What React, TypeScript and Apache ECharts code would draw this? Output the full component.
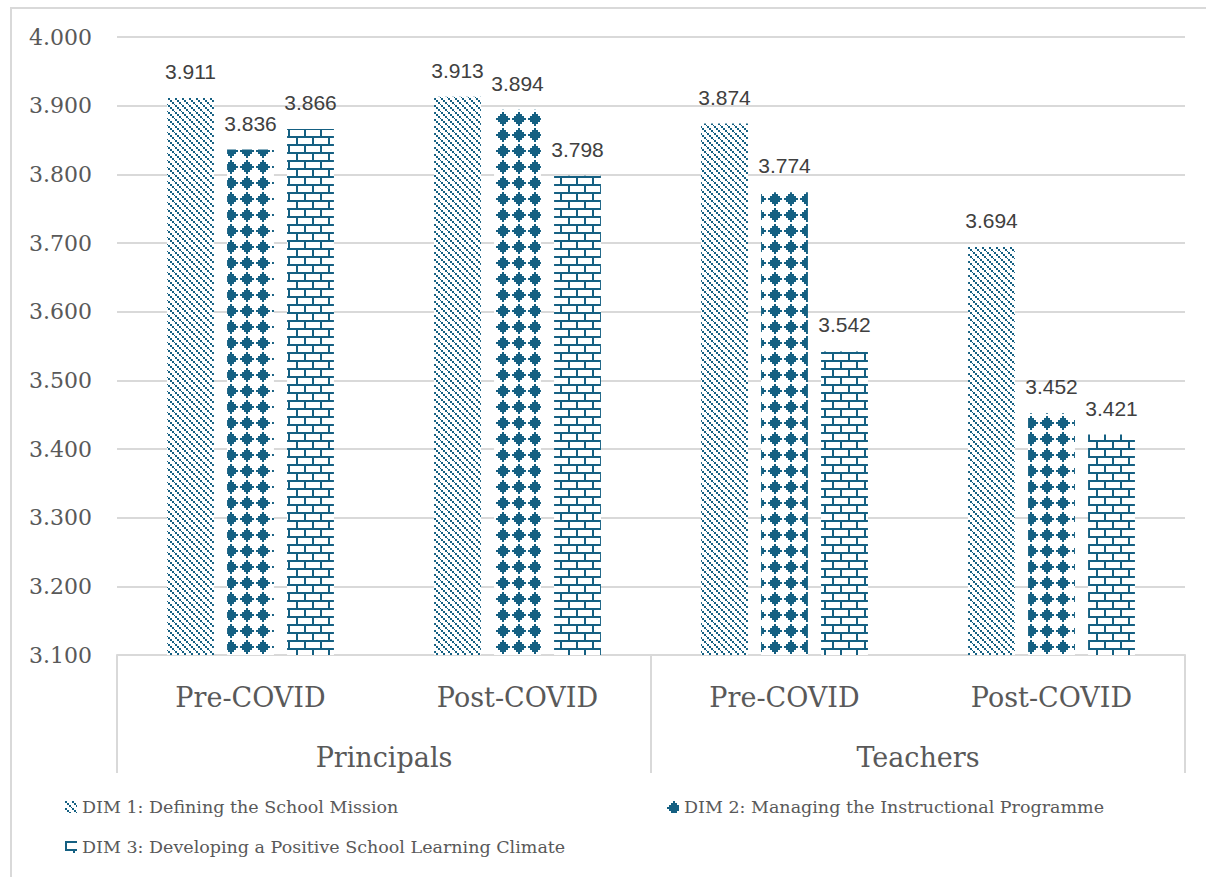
import { useEffect, useRef } from "react";
import * as echarts from "echarts";

// Category levels
const groups = ["Principals", "Teachers"];
const periods = ["Pre-COVID", "Post-COVID", "Pre-COVID", "Post-COVID"];

// Series names
const dimNames = [
  "DIM 1: Defining the School Mission",
  "DIM 2: Managing the Instructional Programme",
  "DIM 3: Developing a Positive School Learning Climate",
];

// Mean scores per period (Principals Pre, Principals Post, Teachers Pre, Teachers Post)
const dim1 = [3.911, 3.913, 3.874, 3.694];
const dim2 = [3.836, 3.894, 3.774, 3.452];
const dim3 = [3.866, 3.798, 3.542, 3.421];

// Value axis range
const yMin = 3.1;
const yMax = 4.0;
const yStep = 0.1;

const INK = "#156082";
const GRID = "#d9d9d9";
const TEXT = "#595959";
const SERIF = "DejaVu Serif";

type Painter = (ctx: CanvasRenderingContext2D) => void;

function makeTile(size: number, draw: Painter) {
  const c = document.createElement("canvas");
  c.width = size;
  c.height = size;
  const ctx = c.getContext("2d") as CanvasRenderingContext2D;
  ctx.fillStyle = "#ffffff";
  ctx.fillRect(0, 0, size, size);
  ctx.fillStyle = INK;
  draw(ctx);
  return {
    image: c.toDataURL(),
    imageWidth: size,
    imageHeight: size,
    repeat: "repeat",
  };
}

// Dotted downward diagonal
const diagonal: Painter = (ctx) => {
  ctx.fillRect(0, 0, 2, 2);
  ctx.fillRect(2, 2, 2, 2);
  ctx.fillRect(4, 4, 2, 2);
  ctx.fillRect(6, 6, 1, 1);
};

// Solid diamonds on a 2px cell grid
const diamonds: Painter = (ctx) => {
  for (let cy = 0; cy < 8; cy++) {
    for (let cx = 0; cx < 8; cx++) {
      if (Math.abs(cx - 3) + Math.abs(cy - 3) <= 3) ctx.fillRect(cx * 2, cy * 2, 2, 2);
    }
  }
};

// Horizontal brick
const bricks: Painter = (ctx) => {
  ctx.fillRect(0, 0, 16, 2);
  ctx.fillRect(0, 8, 16, 2);
  ctx.fillRect(0, 2, 2, 6);
  ctx.fillRect(8, 10, 2, 6);
};

export default function App() {
  const ref = useRef<HTMLDivElement>(null);

  useEffect(() => {
    if (!ref.current) return;
    const chart = echarts.init(ref.current, undefined, { renderer: "svg" });

    const fills = [makeTile(7, diagonal), makeTile(16, diamonds), makeTile(16, bricks)];
    const values = [dim1, dim2, dim3];

    const legendText = {
      fontFamily: SERIF,
      fontSize: 17.5,
      color: TEXT,
      lineHeight: 20,
    };

    chart.setOption({
      animation: false,
      backgroundColor: "#ffffff",
      graphic: [
        {
          type: "rect",
          shape: { x: 11, y: 8, width: 1300, height: 1000 },
          style: { fill: "none", stroke: GRID, lineWidth: 2 },
          silent: true,
          z: -1,
        },
      ],
      grid: { left: 117, right: 21, top: 37, bottom: 222, containLabel: false },
      legend: [
        {
          data: [dimNames[0], dimNames[2]],
          orient: "vertical",
          left: 60,
          top: 792,
          itemWidth: 12,
          itemHeight: 12,
          itemGap: 20,
          icon: "rect",
          textStyle: legendText,
        },
        {
          data: [dimNames[1]],
          orient: "vertical",
          left: 662,
          top: 792,
          itemWidth: 12,
          itemHeight: 12,
          itemGap: 20,
          icon: "rect",
          textStyle: legendText,
        },
      ],
      xAxis: [
        {
          type: "category",
          data: periods,
          position: "bottom",
          axisLine: { show: true, lineStyle: { color: GRID, width: 2 } },
          axisTick: { show: false },
          axisLabel: {
            fontFamily: SERIF,
            fontSize: 27,
            lineHeight: 30,
            color: TEXT,
            margin: 27,
            interval: 0,
          },
        },
        {
          type: "category",
          data: groups,
          position: "bottom",
          axisLine: { show: false },
          axisTick: { show: true, length: 118, lineStyle: { color: GRID, width: 2 } },
          axisLabel: {
            fontFamily: SERIF,
            fontSize: 27,
            lineHeight: 30,
            color: TEXT,
            margin: 87,
            interval: 0,
          },
          splitLine: { show: false },
        },
      ],
      yAxis: {
        type: "value",
        min: yMin,
        max: yMax,
        interval: yStep,
        axisLine: { show: false },
        axisTick: { show: false },
        splitLine: { lineStyle: { color: GRID, width: 2 } },
        axisLabel: {
          fontFamily: SERIF,
          fontSize: 22,
          color: TEXT,
          margin: 25,
          formatter: (v: number) => v.toFixed(3),
        },
      },
      series: dimNames.map((name, i) => ({
        name,
        type: "bar",
        xAxisIndex: 0,
        data: values[i],
        barGap: "28%",
        barCategoryGap: "37.5%",
        itemStyle: { color: fills[i] },
        label: {
          show: true,
          position: "top",
          distance: 16,
          fontFamily: "Liberation Sans",
          fontSize: 21,
          color: "#404040",
          formatter: (p: any) => Number(p.value).toFixed(3),
        },
      })),
    });

    return () => chart.dispose();
  }, []);

  return (
    <div
      ref={ref}
      style={{ position: "absolute", left: 0, top: 0, width: 1206, height: 877 }}
    />
  );
}
